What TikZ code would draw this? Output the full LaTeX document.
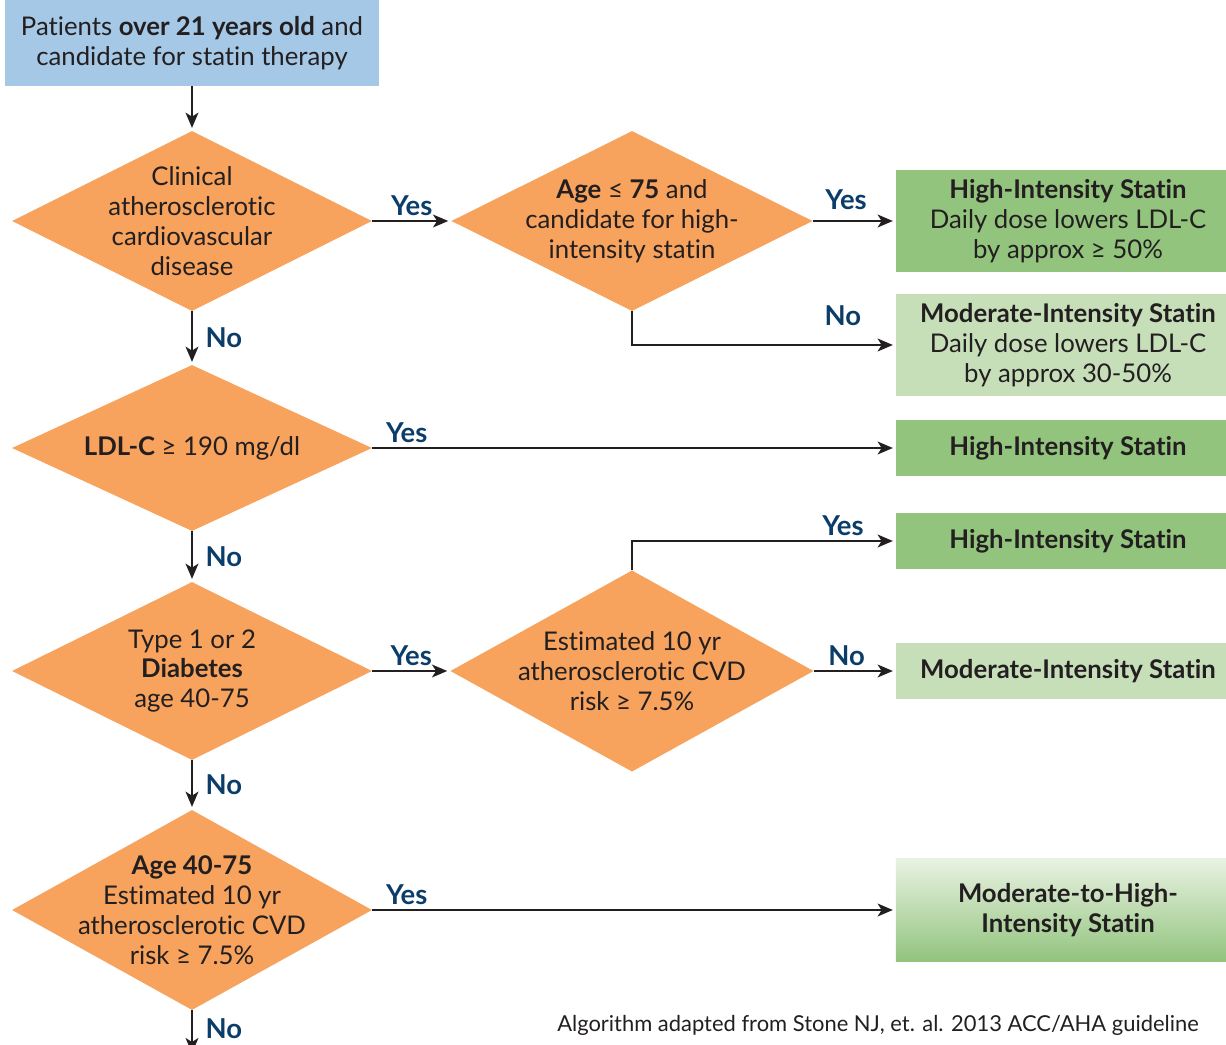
\documentclass[tikz,border=0pt]{standalone}
\usepackage{fontspec}
\setmainfont{Lato}[Ligatures=NoCommon]
\usetikzlibrary{shapes.geometric,arrows.meta}

\definecolor{startblue}{RGB}{165,200,230}
\definecolor{decorange}{RGB}{247,163,93}
\definecolor{highgreen}{RGB}{146,196,126}
\definecolor{modgreen}{RGB}{198,223,185}
\definecolor{palegreen}{RGB}{233,242,226}
\definecolor{labelnavy}{RGB}{11,61,107}
\definecolor{inkgray}{RGB}{35,31,32}

\tikzset{
  decision/.style={diamond, fill=decorange, inner sep=0pt, minimum width=9cm},
  dtext/.style={align=center, text=inkgray, inner sep=0pt, font=\fontsize{18.3}{21.3}\selectfont},
  result/.style={rectangle, fill=#1, minimum width=8.6cm, align=center, text=inkgray,
    inner sep=0pt, font=\fontsize{18.3}{21.3}\selectfont},
  answer/.style={font=\fontsize{19.5}{21}\selectfont\bfseries, text=labelnavy},
  flow/.style={-{Stealth[length=0.38cm,width=0.32cm,inset=0.1cm]}, line width=1.4pt,
    draw=inkgray, shorten >=2pt},
}

\begin{document}
\begin{tikzpicture}[x=0.025cm, y=-0.025cm]
  \useasboundingbox (0,0) rectangle (1226,1045);
  \clip (0,0) rectangle (1226,1045);

  % start
  \node[result=startblue, minimum width=9.35cm, minimum height=2.15cm] (start) at (192,43)
    {Patients \textbf{over 21 years old} and\\candidate for statin therapy};

  % left column of questions
  \node[decision, minimum height=4.5cm,
    label={[dtext]center:{Clinical\\atherosclerotic\\cardiovascular\\disease}}] (cvd) at (192,221) {};
  \node[decision, minimum height=4.15cm,
    label={[dtext]center:{\textbf{LDL-C} ≥ 190 mg/dl}}] (ldl) at (192,448) {};
  \node[decision, minimum height=4.45cm,
    label={[dtext]center:{Type 1 or 2\\\textbf{Diabetes}\\age 40-75}}] (diab) at (192,671) {};
  \node[decision, minimum height=5cm,
    label={[dtext]center:{\textbf{Age 40-75}\\Estimated 10 yr\\atherosclerotic CVD\\risk ≥ 7.5\%}}] (older) at (192,910) {};
  \coordinate (exit) at (192,1056);

  % middle column
  \node[decision, minimum width=9.03cm, minimum height=4.5cm,
    label={[dtext]center:{\textbf{Age} ≤ \textbf{75} and\\candidate for high-\\intensity statin}}] (agehi) at (632,221) {};
  \node[decision, minimum width=9.08cm, minimum height=5.03cm,
    label={[dtext]center:{Estimated 10 yr\\atherosclerotic CVD\\risk ≥ 7.5\%}}] (risk) at (632,671) {};

  % statin boxes
  \node[result=highgreen, minimum height=2.525cm] (hi1) at (1068,221)
    {\textbf{High-Intensity Statin}\\Daily dose lowers LDL-C\\by approx ≥ 50\%};
  \node[result=modgreen, minimum height=2.525cm] (mi1) at (1068,345)
    {\textbf{Moderate-Intensity Statin}\\Daily dose lowers LDL-C\\by approx 30-50\%};
  \node[result=highgreen, minimum height=1.375cm, font=\fontsize{18.3}{21.3}\selectfont\bfseries] (hi2) at (1068,448)
    {High-Intensity Statin};
  \node[result=highgreen, minimum height=1.4cm, font=\fontsize{18.3}{21.3}\selectfont\bfseries] (hi3) at (1068,541)
    {High-Intensity Statin};
  \node[result=modgreen, minimum height=1.375cm, font=\fontsize{18.3}{21.3}\selectfont\bfseries] (mi2) at (1068,671)
    {Moderate-Intensity Statin};
  \node[result=highgreen, top color=palegreen, bottom color=highgreen, minimum height=2.575cm,
    font=\fontsize{18.3}{21.3}\selectfont\bfseries] (mhi) at (1068,910)
    {Moderate-to-High-\\Intensity Statin};

  \node[anchor=west, inner sep=0pt, text=inkgray, font=\fontsize{15.6}{18}\selectfont] (source) at (557,1025)
    {Algorithm adapted from Stone NJ, et. al. 2013 ACC/AHA guideline};

  \draw[flow] (start) -- (cvd);
  \draw[flow] (cvd) -- node[answer, above]{Yes} (agehi);
  \draw[flow] (agehi) -- node[answer, above, pos=0.4, yshift=0.15cm]{Yes} (hi1);
  \draw[flow] (agehi.south) |- node[answer, above, pos=0.9, yshift=0.35cm]{No} (mi1);
  \draw[flow] (cvd) -- node[answer, right, xshift=0.2cm]{No} (ldl);
  \draw[flow] (ldl) -- node[answer, above right, pos=0, xshift=0.2cm]{Yes} (hi2);
  \draw[flow] (ldl) -- node[answer, right, xshift=0.2cm]{No} (diab);
  \draw[flow] (diab) -- node[answer, above]{Yes} (risk);
  \draw[flow] (risk.north) |- node[answer, above, pos=0.9]{Yes} (hi3);
  \draw[flow] (risk) -- node[answer, above, pos=0.4]{No} (mi2);
  \draw[flow] (diab) -- node[answer, right, xshift=0.2cm]{No} (older);
  \draw[flow] (older) -- node[answer, above right, pos=0, xshift=0.2cm]{Yes} (mhi);
  \draw[flow] (older) -- node[answer, right, pos=0.4, xshift=0.2cm]{No} (exit);
\end{tikzpicture}
\end{document}
